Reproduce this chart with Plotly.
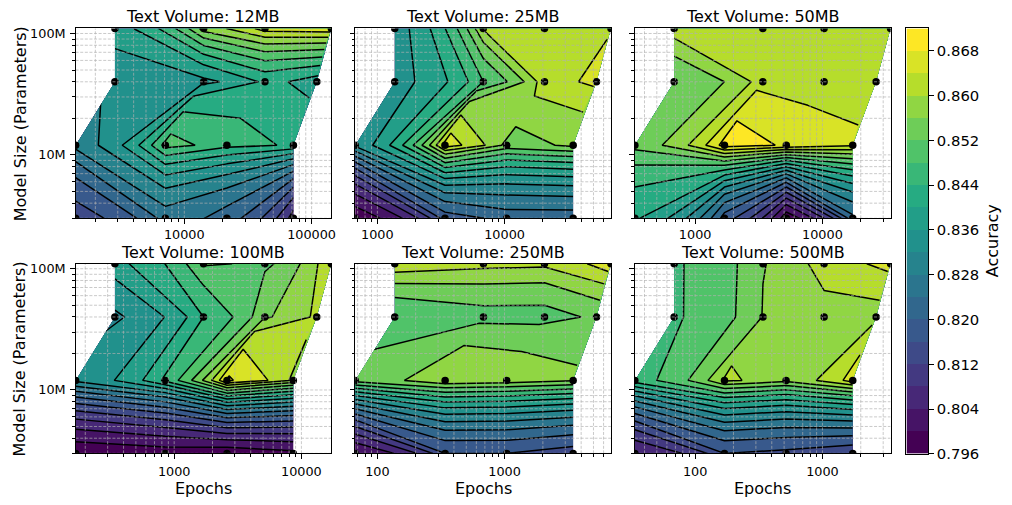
import math
import plotly.graph_objects as go

FONT = "DejaVu Sans"

volumes = ["12MB", "25MB", "50MB", "100MB", "250MB", "500MB"]
model_sizes = [3.0e6, 12e6, 40e6, 110e6]

# epochs grid per text volume (rows = model sizes, columns = runs)
epochs_12mb = [[1400, 7100, 21600, 72000],
               [1400, 7100, 21600, 72000],
               [2850, 14200, 43000, 110000],
               [2850, 14200, 43000, 143000]]
epochs_25mb = [[670, 3400, 10400, 34600],
               [670, 3400, 10400, 34600],
               [1370, 6800, 20600, 52800],
               [1370, 6800, 20600, 68600]]
epochs_50mb = [[336, 1700, 5200, 17300],
               [336, 1700, 5200, 17300],
               [684, 3400, 10300, 26400],
               [684, 3400, 10300, 34300]]
epochs_100mb = [[168, 850, 2600, 8640],
                [168, 850, 2600, 8640],
                [342, 1700, 5160, 13200],
                [342, 1700, 5160, 17200]]
epochs_250mb = [[67, 341, 1040, 3460],
                [67, 341, 1040, 3460],
                [137, 682, 2060, 5280],
                [137, 682, 2060, 6860]]
epochs_500mb = [[33.6, 170, 518, 1730],
                [33.6, 170, 518, 1730],
                [68.4, 341, 1030, 2640],
                [68.4, 341, 1030, 3430]]

# accuracy grid per text volume
acc_12mb = [[0.814, 0.826, 0.822, 0.806],
            [0.8295, 0.8495, 0.8452, 0.8433],
            [0.834, 0.835, 0.841, 0.838],
            [0.838, 0.858, 0.866, 0.867]]
acc_25mb = [[0.797, 0.818, 0.822, 0.822],
            [0.833, 0.866, 0.8545, 0.857],
            [0.8345, 0.848, 0.8628, 0.8650],
            [0.834, 0.8605, 0.8636, 0.8636]]
acc_50mb = [[0.8405, 0.818, 0.797, 0.823],
            [0.8534, 0.8699, 0.8673, 0.8645],
            [0.8522, 0.8624, 0.8605, 0.862],
            [0.8628, 0.8625, 0.862, 0.8625]]
acc_100mb = [[0.797, 0.798, 0.797, 0.799],
             [0.833, 0.845, 0.8685, 0.859],
             [0.8314, 0.844, 0.8555, 0.861],
             [0.839, 0.8525, 0.851, 0.864]]
acc_250mb = [[0.800, 0.816, 0.816, 0.814],
             [0.854, 0.8597, 0.8585, 0.8565],
             [0.848, 0.8505, 0.8505, 0.853],
             [0.8637, 0.8615, 0.861, 0.867]]
acc_500mb = [[0.804, 0.816, 0.815, 0.813],
             [0.8463, 0.8606, 0.8573, 0.866],
             [0.8476, 0.8562, 0.8585, 0.8585],
             [0.8476, 0.8558, 0.8625, 0.8655]]

epochs_all = [epochs_12mb, epochs_25mb, epochs_50mb, epochs_100mb, epochs_250mb, epochs_500mb]
acc_all = [acc_12mb, acc_25mb, acc_50mb, acc_100mb, acc_250mb, acc_500mb]

x_major_ticks = [[10000, 100000], [1000, 10000], [1000, 10000],
                 [1000, 10000], [100, 1000], [100, 1000]]
y_major_ticks = [1e7, 1e8]
y_major_text = ["10M", "100M"]

level_start, level_end, level_step = 0.796, 0.872, 0.004
cbar_tick_vals = [0.796, 0.804, 0.812, 0.820, 0.828, 0.836, 0.844, 0.852, 0.860, 0.868]

# ---------------- styling helpers ----------------
VIR = ["#440154", "#482475", "#414487", "#355f8d", "#2a788e", "#21918c",
       "#22a884", "#44bf70", "#7ad151", "#bddf26", "#fde725"]


def _rgb(h):
    return [int(h[i:i + 2], 16) for i in (1, 3, 5)]


def viridis(t):
    t = min(max(t, 0.0), 1.0) * 10
    i = min(int(t), 9)
    f = t - i
    a, b = _rgb(VIR[i]), _rgb(VIR[i + 1])
    c = [round(a[j] + (b[j] - a[j]) * f) for j in range(3)]
    return "rgb(%d,%d,%d)" % tuple(c)


n_bands = int(round((level_end - level_start) / level_step))  # 19
band_colors = [viridis(k / (n_bands - 1)) for k in range(n_bands)]
n_levels = n_bands + 1
contour_cs = [[0.0, band_colors[0]]]
for k in range(n_bands):
    contour_cs.append([(k + 1) / n_levels, band_colors[k]])
contour_cs.append([1.0, band_colors[-1]])

W, H = 1012, 505
xdoms = [[76 / W, 333 / W], [357 / W, 614 / W], [638 / W, 895 / W]]
ydoms = [[1 - 220.7 / H, 1 - 27 / H], [1 - 460.5 / H, 1 - 267 / H]]

TICK_FS = 12.8
LABEL_FS = 16
CBAR_TICK_FS = 14.8
GRID_COLOR = "rgba(176,176,176,0.85)"


def log_positions(lo, hi):
    vals = []
    k0, k1 = math.floor(math.log10(lo)) - 1, math.ceil(math.log10(hi)) + 1
    for k in range(k0, k1):
        for m in range(1, 10):
            v = m * 10 ** k
            if lo * 0.9999 <= v <= hi * 1.0001:
                vals.append(v)
    return vals


fig = go.Figure()
annotations = []
layout_axes = {}

for i in range(6):
    r, c = divmod(i, 3)
    idx = "" if i == 0 else str(i + 1)
    xa, ya = "x" + idx, "y" + idx
    E = epochs_all[i]
    Z = acc_all[i]
    Y = [[m] * 4 for m in model_sizes]
    cid = "carpet%d" % i

    fig.add_trace(go.Carpet(
        carpet=cid, a=[0, 1, 2, 3], b=[0, 1, 2, 3], x=E, y=Y,
        xaxis=xa, yaxis=ya,
        aaxis=dict(smoothing=0, showgrid=False, showline=False, showticklabels="none",
                   startline=False, endline=False, minorgridcount=0),
        baxis=dict(smoothing=0, showgrid=False, showline=False, showticklabels="none",
                   startline=False, endline=False, minorgridcount=0),
    ))
    fig.add_trace(go.Contourcarpet(
        carpet=cid, a=[0, 1, 2, 3], b=[0, 1, 2, 3], z=Z,
        xaxis=xa, yaxis=ya,
        autocontour=False,
        contours=dict(start=level_start, end=level_end, size=level_step,
                      coloring="fill", showlines=True),
        line=dict(color="black", width=1.5, smoothing=0),
        colorscale=contour_cs, showscale=False,
    ))
    fig.add_trace(go.Scatter(
        x=[v for row in E for v in row],
        y=[v for row in Y for v in row],
        mode="markers", xaxis=xa, yaxis=ya,
        marker=dict(color="black", size=7.5, line=dict(width=0)),
        showlegend=False, hoverinfo="skip",
    ))

    xmin = min(min(row) for row in E)
    xmax = max(max(row) for row in E)
    ymin, ymax = model_sizes[0], model_sizes[-1]
    xgrid = log_positions(xmin, xmax)
    ygrid = log_positions(ymin, ymax)
    xminor = [v for v in xgrid if v not in x_major_ticks[i]]
    yminor = [v for v in ygrid if v not in y_major_ticks]

    # dashed grid drawn on top of the filled contours (matplotlib style)
    gx, gy = [], []
    for v in xgrid:
        gx += [v, v, None]
        gy += [ymin, ymax, None]
    for v in ygrid:
        gx += [xmin, xmax, None]
        gy += [v, v, None]
    fig.add_trace(go.Scatter(
        x=gx, y=gy, mode="lines", xaxis=xa, yaxis=ya,
        line=dict(color=GRID_COLOR, width=0.8, dash="3px,1.6px"),
        showlegend=False, hoverinfo="skip", connectgaps=False,
    ))

    axis_common = dict(showline=True, linecolor="black", linewidth=1, mirror=True,
                       ticks="outside", ticklen=4.5, tickwidth=1, tickcolor="black",
                       showgrid=False, zeroline=False, layer="above traces",
                       tickfont=dict(family=FONT, size=TICK_FS, color="black"))
    layout_axes["xaxis" + idx] = dict(
        axis_common, type="log", domain=xdoms[c], anchor=ya,
        range=[math.log10(xmin), math.log10(xmax)],
        tickmode="array", tickvals=x_major_ticks[i],
        ticktext=[str(v) for v in x_major_ticks[i]],
        ticklabelstandoff=(2 if r == 1 else 0),
        minor=dict(tickmode="array", tickvals=xminor, ticks="outside", ticklen=2.5,
                   tickwidth=0.8, tickcolor="black", showgrid=False),
    )
    layout_axes["yaxis" + idx] = dict(
        axis_common, type="log", domain=ydoms[r], anchor=xa,
        range=[math.log10(ymin), math.log10(ymax)],
        tickmode="array", tickvals=y_major_ticks, ticktext=y_major_text,
        showticklabels=(c == 0), ticklabelstandoff=2,
        minor=dict(tickmode="array", tickvals=yminor, ticks="outside", ticklen=2.5,
                   tickwidth=0.8, tickcolor="black", showgrid=False),
    )

    annotations.append(dict(
        text="Text Volume: " + volumes[i], xref="paper", yref="paper",
        x=(xdoms[c][0] + xdoms[c][1]) / 2, y=ydoms[r][1], xanchor="center",
        yanchor="bottom", yshift=0, showarrow=False,
        font=dict(family=FONT, size=LABEL_FS, color="black")))
    if r == 1:
        annotations.append(dict(
            text="Epochs", xref="paper", yref="paper",
            x=(xdoms[c][0] + xdoms[c][1]) / 2, y=1 - 496 / H, xanchor="center",
            yanchor="middle", showarrow=False,
            font=dict(family=FONT, size=LABEL_FS, color="black")))
    if c == 0:
        annotations.append(dict(
            text="Model Size (Parameters)", xref="paper", yref="paper",
            x=20 / W, y=(ydoms[r][0] + ydoms[r][1]) / 2, xanchor="center",
            yanchor="middle", textangle=-90, showarrow=False,
            font=dict(family=FONT, size=LABEL_FS, color="black")))

# ---------------- colorbar (discrete bands) ----------------
levels = [round(level_start + k * level_step, 3) for k in range(n_levels)]
fig.add_trace(go.Heatmap(
    z=[[k] for k in range(n_bands)], x=[0, 1], y=levels,
    zmin=0, zmax=n_bands - 1,
    colorscale=[[k / (n_bands - 1), band_colors[k]] for k in range(n_bands)],
    showscale=False, xaxis="x7", yaxis="y7", hoverinfo="skip",
))
layout_axes["xaxis7"] = dict(domain=[911 / W, 933 / W], anchor="y7", range=[0, 1],
                             showticklabels=False, ticks="", showline=True, mirror=True,
                             linecolor="black", linewidth=1, showgrid=False, zeroline=False)
layout_axes["yaxis7"] = dict(domain=[1 - 461 / H, 1 - 27 / H], anchor="x7", side="right",
                             range=[level_start, level_end], tickmode="array",
                             tickvals=cbar_tick_vals,
                             ticktext=["%.3f" % v for v in cbar_tick_vals],
                             ticks="outside", ticklen=4.5, tickwidth=1, tickcolor="black",
                             showline=True, mirror=True, linecolor="black", linewidth=1,
                             showgrid=False, zeroline=False,
                             tickfont=dict(family=FONT, size=CBAR_TICK_FS, color="black"))
annotations.append(dict(
    text="Accuracy", xref="paper", yref="paper", x=997 / W,
    y=(1 - 461 / H + 1 - 27 / H) / 2, xanchor="center", yanchor="middle",
    textangle=-90, showarrow=False,
    font=dict(family=FONT, size=LABEL_FS, color="black")))

fig.update_layout(
    width=W, height=H, margin=dict(l=0, r=0, t=0, b=0),
    paper_bgcolor="white", plot_bgcolor="white",
    showlegend=False, annotations=annotations,
    font=dict(family=FONT, color="black"),
    **layout_axes,
)

fig.write_html("out.html")
